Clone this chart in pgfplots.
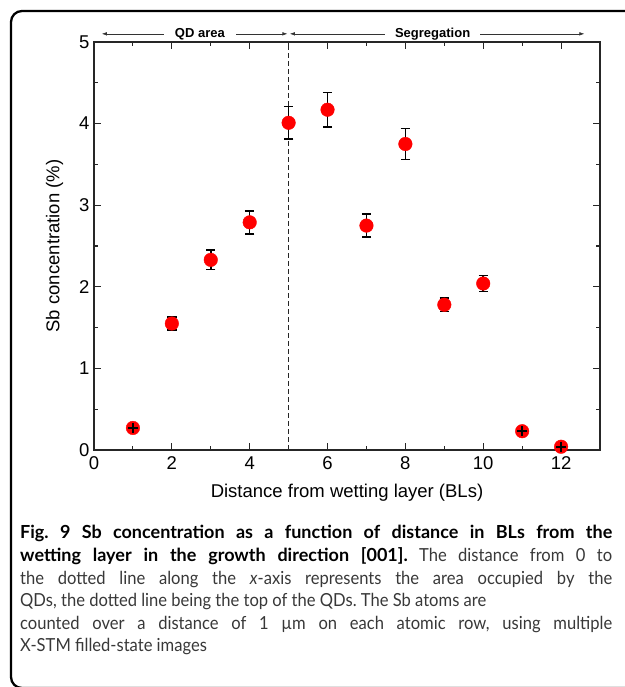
\documentclass[border=0pt]{standalone}
\usepackage{fontspec}
\setmainfont{Liberation Sans}
\newfontfamily\capfont[FakeStretch=0.92, BoldFeatures={FakeStretch=1.0}]{Lato}
\usepackage{pgfplots}
\usepackage{pgfplotstable}
\pgfplotsset{compat=1.18}
\usetikzlibrary{arrows.meta}

% Sb concentration (%) vs distance from wetting layer (BLs)
\pgfplotstableread{
x  y    e
2  1.55 0.08
3  2.33 0.12
4  2.79 0.14
5  4.01 0.20
6  4.17 0.21
7  2.75 0.14
8  3.75 0.19
9  1.78 0.085
10 2.04 0.10
}\bigpts
\pgfplotstableread{
x  y    e
1  0.27 0.03
11 0.23 0.03
12 0.04 0.03
}\smallpts

\definecolor{captxt}{rgb}{0.22,0.22,0.22}

\begin{document}
\begin{tikzpicture}
\useasboundingbox (0pt,0pt) rectangle (624pt,687pt);
\draw[line width=2.3pt, rounded corners=11pt] (11pt,-1pt) rectangle (660pt,676pt);

\begin{axis}[
    at={(94pt,237pt)}, anchor=south west,
    scale only axis, width=506pt, height=408pt,
    xmin=0, xmax=13, ymin=0, ymax=5,
    xtick={0,2,...,12}, minor xtick={1,3,...,11},
    ytick={0,1,...,5}, minor ytick={0.5,1.5,...,4.5},
    tick align=inside,
    major tick length=7pt, minor tick length=4pt,
    tick style={line width=1.1pt, black!85},
    axis line style={line width=1.2pt, black!85},
    ticklabel style={font=\fontsize{18.5}{20}\selectfont},
    xticklabel style={yshift=-3pt},
    yticklabel style={xshift=-1pt},
    /pgf/number format/assume math mode=true,
    label style={font=\fontsize{18.5}{20}\selectfont},
    xlabel={Distance from wetting layer (BLs)},
    ylabel={Sb concentration (\%)},
    xlabel style={at={(axis description cs:0.5,-0.105)}, anchor=center},
    ylabel style={at={(axis description cs:-0.078,0.5)}, anchor=center},
    clip=false,
]
% boundary of the QD area
\draw[line width=0.9pt, black!85, dash pattern=on 5pt off 3pt] (axis cs:5,0) -- (axis cs:5,5);

% region arrows above the frame
\draw[line width=0.6pt, black!80, {Latex[length=5pt,width=3.5pt]}-{Latex[length=5pt,width=3.5pt]}]
    (axis cs:0.2,5.1) -- (axis cs:4.97,5.1);
\draw[line width=0.6pt, black!80, {Latex[length=5pt,width=3.5pt]}-{Latex[length=5pt,width=3.5pt]}]
    (axis cs:5.03,5.1) -- (axis cs:12.6,5.1);
\node[fill=white, inner xsep=11pt, inner ysep=1pt, font=\bfseries\fontsize{13}{14}\selectfont]
    at (axis cs:2.72,5.1) {QD area};
\node[fill=white, inner xsep=10pt, inner ysep=1pt, font=\bfseries\fontsize{13}{14}\selectfont]
    at (axis cs:8.7,5.1) {Segregation};

% error bars under the markers
\addplot[forget plot, only marks, mark=none,
    error bars/.cd, y dir=both, y explicit,
    error bar style={line width=1.5pt, black},
    error mark options={rotate=90, mark size=4.7pt, line width=1.5pt, black}]
    table[x=x, y=y, y error=e] {\bigpts};
% markers
\addplot[only marks, mark=*, mark size=6.8pt, mark options={fill=red, draw=red}]
    table[x=x, y=y] {\bigpts};
\addplot[only marks, mark=*, mark size=6.8pt, mark options={fill=red, draw=red}]
    table[x=x, y=y] {\smallpts};
% small error bars drawn on top of their markers
\addplot[forget plot, only marks, mark=+, mark size=5pt,
    mark options={line width=2pt, black},
    error bars/.cd, y dir=both, y explicit,
    error bar style={line width=1.5pt, black},
    error mark options={rotate=90, mark size=4.7pt, line width=1.5pt, black}]
    table[x=x, y=y, y error=e] {\smallpts};
\end{axis}

\node[anchor=base west, inner sep=0pt] at (20pt,35pt) {\vbox{%
  \capfont\fontsize{18}{22.6}\selectfont\frenchspacing\baselineskip=22.6pt\hsize=592pt
  \hbox to 592pt{\bfseries Fig. 9 Sb concentration as a function of distance in BLs from the}
  \hbox to 592pt{{\bfseries wetting layer in the growth direction [001].} {\color{captxt}The distance from 0 to}}
  \hbox to 592pt{\color{captxt}the dotted line along the \textit{x}-axis represents the area occupied by the}
  \hbox{\color{captxt}QDs, the dotted line being the top of the QDs. The Sb atoms are}
  \hbox to 592pt{\color{captxt}counted over a distance of 1 µm on each atomic row, using multiple}
  \hbox{\color{captxt}X-STM filled-state images}}};
\end{tikzpicture}
\end{document}
